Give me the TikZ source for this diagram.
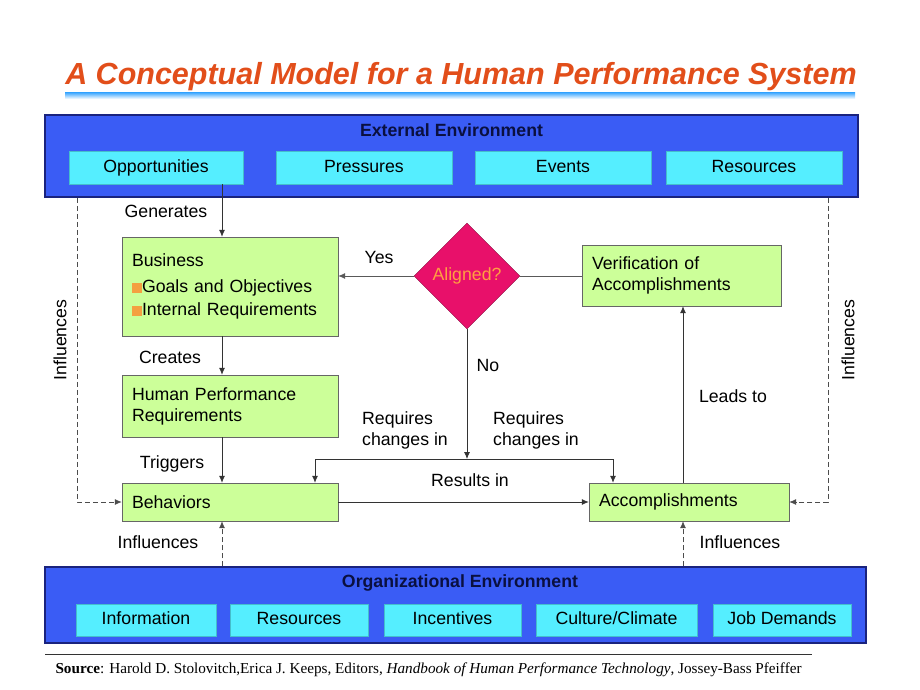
\documentclass[tikz,border=0pt]{standalone}
\usepackage{fontspec}
\setmainfont{Liberation Sans}
\newfontfamily\srcfont{Liberation Serif}
\usetikzlibrary{arrows.meta,shapes.geometric}

\definecolor{envblue}{HTML}{3A5CF5}
\definecolor{envedge}{HTML}{1A237E}
\definecolor{envtext}{HTML}{0A1040}
\definecolor{tilecyan}{HTML}{55EEFF}
\definecolor{boxgreen}{HTML}{CCFF99}
\definecolor{diamred}{HTML}{E8106A}
\definecolor{diamtext}{HTML}{FFA040}
\definecolor{titleorange}{HTML}{E24E1A}
\definecolor{bulletorange}{HTML}{F4A040}

\newcommand{\bul}{\textcolor{bulletorange}{\rule{10pt}{10pt}}}

\begin{document}
\begin{tikzpicture}[
    x=1pt, y=-1pt,
    font=\fontsize{17.7}{21}\selectfont,
    envbox/.style={rectangle, draw=envedge, line width=1.5pt, fill=envblue},
    envtitle/.style={font=\fontsize{17.7}{21}\selectfont\bfseries, text=envtext},
    tile/.style={rectangle, fill=tilecyan, draw=tilecyan!80!black, line width=0.3pt, minimum height=33pt,
        text height=12.5pt, text depth=3.5pt},
    greenbox/.style={rectangle, draw=black!60, fill=boxgreen, align=left, inner xsep=10pt},
    arr/.style={-{Latex[length=7pt,width=6pt]}, thick, black!80},
    dasharr/.style={-{Latex[length=7pt,width=6pt]}, thick, dash pattern=on 5pt off 3pt, black!70},
    lbl/.style={align=center}
]
    \useasboundingbox (0,0) rectangle (920,690);

    % Title
    \shade[top color=blue!45!cyan!70, bottom color=white] (65,93) rectangle (855,99);
    \node[font=\fontsize{30.5}{34}\selectfont\bfseries\itshape, text=titleorange] (title) at (461,77) {A Conceptual Model for a Human Performance System};

    % External environment
    \node[envbox, minimum width=813pt, minimum height=82pt] (ext) at (451.5,156) {};
    \node[envtitle] (exttitle) at (451.5,130) {External Environment};
    \node[tile, minimum width=174pt] (opp) at (156,167.5) {Opportunities};
    \node[tile, minimum width=176pt] (pres) at (364,167.5) {Pressures};
    \node[tile, minimum width=176pt] (events) at (563,167.5) {Events};
    \node[tile, minimum width=176pt] (extres) at (754,167.5) {Resources};

    % Organizational environment
    \node[envbox, minimum width=821pt, minimum height=76pt] (org) at (455.5,605) {};
    \node[envtitle] (orgtitle) at (460,583) {Organizational Environment};
    \node[tile, minimum width=140pt, minimum height=32pt] (info) at (146,620) {Information};
    \node[tile, minimum width=138pt, minimum height=32pt] (orgres) at (299,620) {Resources};
    \node[tile, minimum width=137pt, minimum height=32pt] (incent) at (452.5,620) {Incentives};
    \node[tile, minimum width=161pt, minimum height=32pt] (culture) at (616.5,620) {Culture/Climate};
    \node[tile, minimum width=138pt, minimum height=32pt] (jobdem) at (782,620) {Job Demands};

    % Model boxes
    \node[greenbox, text width=196pt, minimum height=99pt] (business) at (230,286.5)
        {Business\\[5pt]\bul Goals and Objectives\\[2pt]\bul Internal Requirements};
    \node[greenbox, text width=196pt, minimum height=62pt] (hpr) at (230,406) {Human Performance\\Requirements};
    \node[greenbox, text width=196pt, minimum height=38pt] (behav) at (230,502) {Behaviors};
    \node[greenbox, text width=180pt, minimum height=38pt] (accomp) at (689,502) {Accomplishments};
    \node[greenbox, text width=179pt, minimum height=61pt] (verif) at (681.5,275.5) {Verification of\\Accomplishments};
    \node[diamond, fill=diamred, draw=diamred!60!black, minimum width=106pt, minimum height=106pt, inner sep=0pt, text=diamtext] (aligned) at (467,276) {Aligned?};

    % Helper coordinates
    \coordinate (spine) at (222,0);
    \coordinate (leadx) at (683,0);
    \coordinate (inflL) at (77,0);
    \coordinate (inflR) at (828,0);
    \coordinate (split) at (467,459);
    \coordinate (reqL) at (315,459);
    \coordinate (reqR) at (613,459);

    % Main flow
    \draw[arr] (opp.south -| spine) -- (business.north -| spine);
    \draw[arr] (business.south -| spine) -- (hpr.north -| spine);
    \draw[arr] (hpr.south -| spine) -- (behav.north -| spine);
    \draw[arr] (behav.east) -- (accomp.west);
    \draw[arr] (accomp.north -| leadx) -- (verif.south -| leadx);
    \draw[arr, black!65] (aligned.west) -- (aligned.west -| business.east);
    \draw[thick, black!65] (aligned.east) -- (aligned.east -| verif.west);
    \draw[arr] (aligned.south) -- (split);
    \draw[thick, black!80] (reqL) -- (reqR);
    \draw[arr] (reqL) -- (reqL |- behav.north);
    \draw[arr] (reqR) -- (reqR |- accomp.north);

    % Influences
    \draw[dasharr] (ext.south -| inflL) |- (behav.west);
    \draw[dasharr] (ext.south -| inflR) |- (accomp.east);
    \draw[dasharr] (org.north -| spine) -- (behav.south -| spine);
    \draw[dasharr] (org.north -| leadx) -- (accomp.south -| leadx);

    % Labels
    \node[lbl] (lgen) at (166,211) {Generates};
    \node[lbl] (lcre) at (170,357) {Creates};
    \node[lbl] (ltrig) at (172,464) {Triggers};
    \node[lbl] (lyes) at (379,257) {Yes};
    \node[lbl] (lno) at (488,365) {No};
    \node[align=left, anchor=west, inner xsep=0pt] (lreqL) at (362,430) {Requires\\changes in};
    \node[align=left, anchor=west, inner xsep=0pt] (lreqR) at (493,430) {Requires\\changes in};
    \node[lbl] (lres) at (470,480) {Results in};
    \node[lbl] (llead) at (733,396) {Leads to};
    \node[lbl] (linfB) at (158,542) {Influences};
    \node[lbl] (linfA) at (740,542) {Influences};
    \node[lbl, rotate=90] (linfL) at (60,340) {Influences};
    \node[lbl, rotate=90] (linfR) at (848,340) {Influences};

    % Source
    \draw[black!80] (45,654) -- (812,654);
    \node[anchor=west, font=\srcfont\fontsize{15.2}{17}\selectfont] (source) at (52,670)
        {\textbf{Source}: Harold D. Stolovitch,Erica J. Keeps, Editors, \textit{Handbook of Human Performance Technology}, Jossey-Bass Pfeiffer};
\end{tikzpicture}
\end{document}
